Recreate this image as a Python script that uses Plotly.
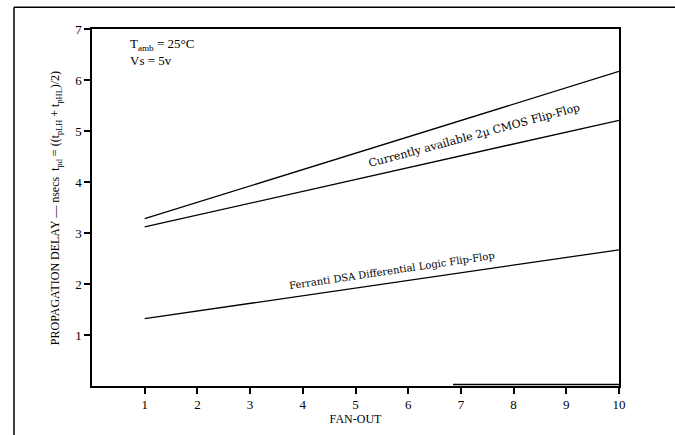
import plotly.graph_objects as go

fan_out = [1, 10]
cmos_upper = [3.28, 6.17]
cmos_lower = [3.12, 5.21]
ferranti = [1.32, 2.67]
x_ticks = [1, 2, 3, 4, 5, 6, 7, 8, 9, 10]
y_ticks = [1, 2, 3, 4, 5, 6, 7]

line_style = dict(color="black", width=1.3)
fig = go.Figure()
for name, ys in [("CMOS upper", cmos_upper), ("CMOS lower", cmos_lower), ("Ferranti", ferranti)]:
    fig.add_trace(go.Scatter(x=fan_out, y=ys, mode="lines", line=line_style, name=name,
                             showlegend=False, hoverinfo="skip"))

serif = "Liberation Serif"
slab = "DejaVu Serif"

fig.update_layout(
    width=675, height=435,
    margin=dict(l=92, r=56, t=29, b=46),
    paper_bgcolor="white", plot_bgcolor="white",
    font=dict(family=serif, size=12, color="black"),
    xaxis=dict(range=[0, 10], tickvals=x_ticks, ticks="outside", ticklen=6, tickwidth=1.5,
               tickcolor="black", showline=True, linecolor="black", linewidth=1.5, mirror=True,
               showgrid=False, zeroline=False,
               tickfont=dict(family=serif, size=13),
               title=dict(text="FAN-OUT", font=dict(family=serif, size=12), standoff=2)),
    yaxis=dict(range=[0, 7], tickvals=y_ticks, ticks="outside", ticklen=6, tickwidth=1.5,
               tickcolor="black", showline=True, linecolor="black", linewidth=1.5, mirror=True,
               showgrid=False, zeroline=False,
               tickfont=dict(family=serif, size=13)),
    shapes=[
        dict(type="line", xref="paper", yref="paper", x0=-0.148, x1=1.2, y0=1.061, y1=1.061,
             line=dict(color="black", width=1.5)),
        dict(type="line", xref="paper", yref="paper", x0=-0.148, x1=-0.148, y0=1.061, y1=-0.2,
             line=dict(color="black", width=1.5)),
        dict(type="line", xref="x", yref="y", x0=6.85, x1=10, y0=0.03, y1=0.03,
             line=dict(color="black", width=1.5)),
    ],
    annotations=[
        dict(xref="paper", yref="paper", x=-0.088, y=0.497, textangle=-90, showarrow=False,
             text="PROPAGATION DELAY — nsecs  t<sub>pd</sub> = ((t<sub>pLH</sub> + t<sub>pHL</sub>)/2)",
             font=dict(family=serif, size=12)),
        dict(xref="x", yref="y", x=7.25, y=4.92, textangle=-15, showarrow=False,
             text="Currently available 2µ CMOS Flip-Flop", font=dict(family=slab, size=11)),
        dict(xref="x", yref="y", x=5.69, y=2.27, textangle=-8.5, showarrow=False,
             text="Ferranti DSA Differential Logic Flip-Flop", font=dict(family=slab, size=10)),
        dict(xref="paper", yref="paper", x=0.068, y=0.985, xanchor="left", yanchor="top",
             align="left", showarrow=False,
             text="T<sub>amb</sub> = 25°C<br>Vs = 5v", font=dict(family=serif, size=13)),
    ],
)
fig.write_html("out.html")
